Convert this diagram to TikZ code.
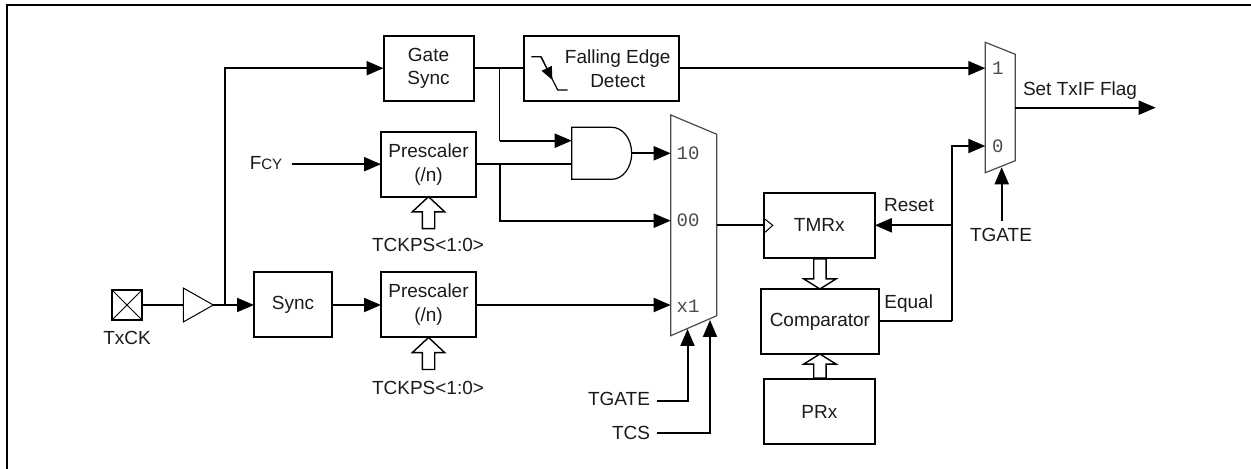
\documentclass[tikz,border=0pt]{standalone}
\usepackage{fontspec}
\setmainfont{Liberation Sans}
\setmonofont{Liberation Mono}
\usetikzlibrary{arrows.meta, calc, shapes.geometric, shapes.arrows}
\definecolor{muxline}{HTML}{4A4A4A}
\definecolor{inktext}{HTML}{1A1A1A}

\begin{document}
\begin{tikzpicture}[
    x=0.5pt, y=-0.5pt,
    every node/.style={font=\fontsize{9.5}{12}\selectfont, text=inktext, inner sep=0pt, outer sep=0pt},
    blk/.style={draw=black, line width=1pt, minimum height=32.5pt, align=center},
    lbl/.style={align=center},
    muxlbl/.style={font=\fontsize{9.5}{12}\ttfamily, text=muxline},
    wire/.style={line width=1pt},
    sig/.style={-{Triangle[length=8.5pt,width=7pt]}, line width=1pt},
    muxbody/.style={draw=muxline, line width=0.6pt, line join=miter},
    bus/.style={single arrow, draw=black, fill=white, line width=0.7pt, inner ysep=2.75pt, single arrow head extend=5pt, anchor=tip}
]
\useasboundingbox (0,0) rectangle (1251,469);

% frame
\coordinate (framea) at (7,469);
\coordinate (frameb) at (7,5);
\coordinate (framec) at (1251,5);
\draw[line width=1pt] (framea) -- (frameb) -- (framec);

% input pad and buffer
\node[draw=black, line width=0.8pt, minimum size=15pt] (pad) at (127,305) {};
\draw[line width=0.5pt] (pad.north west) -- (pad.south east);
\draw[line width=0.5pt] (pad.south west) -- (pad.north east);
\node[lbl] (txck) at (127,338) {TxCK};
\node[isosceles triangle, isosceles triangle stretches, draw=black, line width=0.5pt, minimum width=17pt, minimum height=15pt, anchor=west] (buf) at (183.3,305) {};

% blocks
\node[blk, minimum width=39pt] (sync) at (293,305) {Sync};
\node[blk, minimum width=45pt] (gatesync) at (428.5,68.2) {Gate\\[-0.7pt] Sync};
\node[blk, minimum width=77.5pt] (falling) at (601.7,68.2) {};
\node[lbl] (fallingtxt) at (617.7,69) {Falling Edge\\ Detect};
\node[blk, minimum width=47.5pt] (presa) at (428.5,164.2) {Prescaler\\ (/n)};
\node[blk, minimum width=47.5pt] (presb) at (428.5,305) {Prescaler\\ (/n)};
\node[blk, minimum width=55.5pt] (tmr) at (819.3,225.3) {TMRx};
\node[blk, minimum width=59pt] (comp) at (819.9,321.5) {Comparator};
\node[blk, minimum width=55.5pt] (prx) at (819.3,411.5) {PRx};

% falling edge symbol
\coordinate (edgea) at (531.3,56.7);
\coordinate (edgeb) at (541,56.7);
\coordinate (edgec) at (552.4,80);
\coordinate (edged) at (557.7,90);
\coordinate (edgee) at (567.7,90);
\draw[line width=0.6pt] (edgea) -- (edgeb) -- (edged) -- (edgee);
\draw[-{Triangle[length=6.5pt,width=5.5pt]}, line width=0.6pt] (edgeb) -- (edgec);

% and gate
\node[minimum width=30pt, minimum height=26pt] (andgate) at (601.7,153.3) {};
\draw[line width=0.6pt] (andgate.north west) -- ++(40,0) arc[start angle=90, end angle=-90, x radius=10pt, y radius=13pt] -- (andgate.south west) -- cycle;

% first mux
\node[minimum width=23pt, minimum height=110.4pt] (muxa) at (693.7,225.35) {};
\draw[muxbody] (muxa.north west) -- ($(muxa.north east)+(0,19.3)$) -- ($(muxa.south east)+(0,-20)$) -- (muxa.south west) -- cycle;
\node[muxlbl] (muxaten) at (688,153.3) {10};
\node[muxlbl] (muxazero) at (688,220.7) {00};
\node[muxlbl] (muxax) at (688,306.7) {x1};

% second mux
\node[minimum width=15pt, minimum height=65.2pt] (muxb) at (1000.3,107.5) {};
\draw[muxbody] (muxb.north west) -- ($(muxb.north east)+(0,12)$) -- ($(muxb.south east)+(0,-12)$) -- (muxb.south west) -- cycle;
\node[muxlbl] (muxbone) at (997.7,68.3) {1};
\node[muxlbl] (muxbzero) at (997.7,146) {0};

% bus arrows
\node[bus, rotate=90, minimum height=16pt, single arrow tip angle=94] (busa) at (presa.south) {};
\node[bus, rotate=90, minimum height=16pt, single arrow tip angle=94] (busb) at (presb.south) {};
\node[bus, rotate=-90, minimum height=15pt, single arrow tip angle=116] (busc) at (comp.north) {};
\node[bus, rotate=90, minimum height=12pt, single arrow tip angle=116] (busd) at (comp.south) {};

% labels
\node[lbl] (fcy) at (266,163) {F{\fontsize{7.5}{8}\selectfont CY}};
\node[lbl] (tckpsa) at (428,245) {TCKPS<1:0>};
\node[lbl] (tckpsb) at (428,387.7) {TCKPS<1:0>};
\node[lbl, anchor=east] (tgatea) at (650,399) {TGATE};
\node[lbl, anchor=east] (tcs) at (650,433) {TCS};
\node[lbl] (reset) at (909,205) {Reset};
\node[lbl] (equal) at (908.7,304) {Equal};
\node[lbl] (tgateb) at (1001,235) {TGATE};
\node[lbl] (txif) at (1080,91) {Set TxIF Flag};

% junctions and free ends
\coordinate (jbuf) at (225,305);
\coordinate (jgate) at (499.7,68.2);
\coordinate (jand) at (499.7,140.7);
\coordinate (jpres) at (499.7,164.2);
\coordinate (jreset) at (951.7,225.3);
\coordinate (jequal) at (951.7,321.5);
\coordinate (fcyend) at (291.7,164.2);
\coordinate (tgateaend) at (657.3,400.7);
\coordinate (tcsend) at (657.3,433);
\coordinate (tgatebend) at (1001.7,220.7);
\coordinate (muxaout) at (716.7,225.3);
\coordinate (muxasela) at (687.5,329);
\coordinate (muxaselb) at (710,320);
\coordinate (muxbout) at (1015.3,107.7);
\coordinate (muxbsel) at (1001.7,167.3);
\coordinate (flagend) at (1155.7,107.7);

% signals
\draw[wire] (pad.east) -- (buf.west);
\draw[sig] (buf.east) -- (sync.west);
\draw[sig] (jbuf) |- (gatesync.west);
\draw[sig] (sync.east) -- (presb.west);
\draw[sig] (presb.east) -- (muxa.west |- presb.east);
\draw[sig] (fcyend) -- (presa.west);
\draw[wire] (gatesync.east) -- (falling.west);
\draw[sig] (falling.east) -- (muxb.west |- falling.east);
\draw[line width=0.6pt] (jgate) -- (jand);
\draw[sig] (jand) -- (andgate.west |- jand);
\draw[wire] (presa.east) -- (andgate.west |- presa.east);
\draw[sig] (jpres) |- (muxazero.west -| muxa.west);
\draw[sig] (andgate.east) -- (muxa.west |- andgate.east);
\draw[wire] (muxaout) -- (tmr.west);
\draw[line width=0.5pt] ($(tmr.west)+(0,-7)$) -- ++(9,7) -- ++(-9,8);
\draw[sig] (tgateaend) -| (muxasela);
\draw[sig] (tcsend) -| (muxaselb);
\draw[sig] (jreset) -- (tmr.east);
\draw[wire] (comp.east) -- (jequal);
\draw[sig] (jequal) |- (muxbzero.west -| muxb.west);
\draw[sig] (tgatebend) -- (muxbsel);
\draw[sig] (muxbout) -- (flagend);

\end{tikzpicture}
\end{document}
